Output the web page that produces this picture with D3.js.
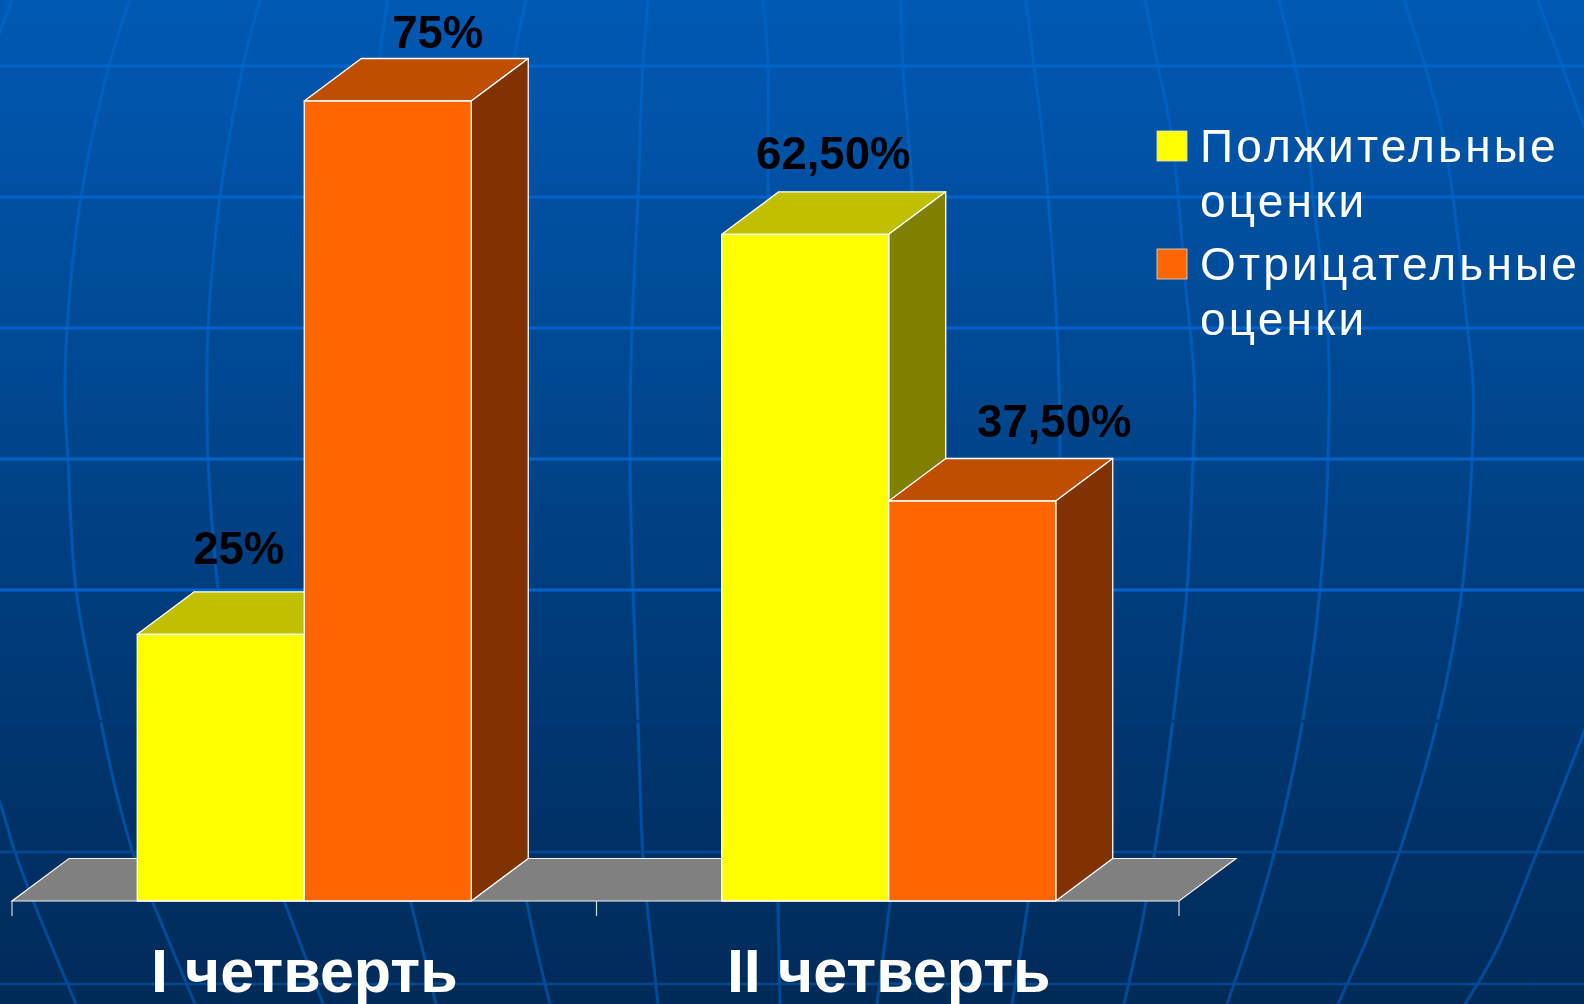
<!DOCTYPE html>
<html>
<head>
<meta charset="utf-8">
<script src="https://d3js.org/d3.v7.min.js"></script>
<style>
    html, body { margin: 0; padding: 0; background: #002d5c; overflow: hidden; }
    svg { display: block; }
    text { font-family: "Liberation Sans", Arial, sans-serif; }
</style>
</head>
<body>
<div id="chart"></div>
<script>
// chart values
const categories = ['I четверть', 'II четверть'];
const seriesNames = ['Полжительные оценки', 'Отрицательные оценки'];
const positiveValues = [25, 62.5];
const negativeValues = [75, 37.5];
const valueLabels = [['25%', '62,50%'], ['75%', '37,50%']];

// background globe, traced by hand
const latitudes = [66, 197, 328, 459, 590, 721, 852, 984];
const meridians = [
    [[12, 0], [-3, 40]],
    [[-30, 720], [0, 803], [15, 852], [34, 903], [76, 1004]],
    [[130, 0], [109, 66], [81, 197], [67, 328], [65, 400], [68, 459], [76, 590], [100, 717], [115, 787], [135, 859], [153, 903], [195, 1004]],
    [[260, 0], [243, 66], [220, 197], [208, 328], [207, 400], [208, 459], [218, 590], [245, 800], [285, 903], [323, 1004]],
    [[388, 0], [379, 57], [350, 300], [345, 460], [360, 700], [411, 903], [436, 1004]],
    [[526, 0], [513, 66], [490, 300], [485, 460], [495, 700], [527, 903], [550, 1004]],
    [[648, 0], [643, 64], [638, 198], [632, 326], [630, 458], [633, 589], [638, 723], [643, 858], [647, 903], [658, 1004]],
    [[763, 0], [768, 64], [768, 192], [772, 460], [776, 700], [778, 903], [780, 1004]],
    [[901, 0], [903, 66], [908, 130], [912, 190], [915, 400], [912, 600], [902, 800], [890, 903], [877, 1004]],
    [[1026, 0], [1034, 66], [1042, 130], [1048, 197], [1057, 328], [1060, 458], [1056, 600], [1044, 780], [1028, 903], [1012, 1004]],
    [[1145, 0], [1158, 66], [1171, 130], [1187, 300], [1193, 360], [1195, 403], [1193, 459], [1187, 590], [1173, 719], [1155, 850], [1142, 923], [1124, 1004]],
    [[1279, 0], [1295, 66], [1307, 130], [1313, 197], [1328, 333], [1328, 459], [1320, 590], [1303, 719], [1275, 850], [1250, 936], [1227, 1004]],
    [[1404, 0], [1425, 66], [1442, 130], [1453, 197], [1468, 333], [1473, 382], [1472, 459], [1462, 590], [1438, 719], [1400, 850], [1370, 932], [1338, 1004]],
    [[1538, 0], [1562, 66], [1600, 170]],
    [[1600, 690], [1565, 781], [1537, 852], [1497, 949], [1465, 1004]]
];

const width = 1584, height = 1004;
const baseY = 901, topY = 101;
const depthX = 57, depthY = 42.5;

const svg = d3.select('#chart').append('svg')
    .attr('width', width)
    .attr('height', height);

const defs = svg.append('defs');

function addGradient(id, stops, units) {
    const g = defs.append('linearGradient').attr('id', id)
        .attr('x1', 0).attr('x2', 0);
    if (units) {
        g.attr('gradientUnits', 'userSpaceOnUse').attr('y1', 0).attr('y2', height);
    } else {
        g.attr('y1', 0).attr('y2', 1);
    }
    stops.forEach(s => g.append('stop').attr('offset', s[0]).attr('stop-color', s[1]));
}

addGradient('bg', [[0, '#0059b3'], [0.4, '#00478f'], [0.8, '#003369'], [1, '#002b59']]);
addGradient('meridian', [[0, '#0062c2'], [0.5, '#0058b4'], [1, '#004a96']], true);

// the reference is a soft, upscaled screenshot
defs.append('filter').attr('id', 'soft')
    .append('feGaussianBlur').attr('stdDeviation', 0.6);

svg.append('rect').attr('width', width).attr('height', height).attr('fill', 'url(#bg)');

// globe behind the chart
const line = d3.line().curve(d3.curveCatmullRom.alpha(0.5));
svg.append('g').selectAll('path')
    .data(meridians)
    .enter().append('path')
    .attr('d', d => line(d))
    .attr('fill', 'none')
    .attr('stroke', 'url(#meridian)')
    .attr('stroke-width', 3);

svg.append('g').selectAll('line')
    .data(latitudes)
    .enter().append('line')
    .attr('x1', 0).attr('x2', width)
    .attr('y1', d => d).attr('y2', d => d)
    .attr('stroke', d => d < 600 ? '#0064cc' : (d < 800 ? '#00397a' : '#004a94'))
    .attr('stroke-width', d => d < 600 ? 3 : 2.5);

// scales
const x0 = d3.scaleBand().domain(categories).range([12, 1181]);
const x1 = d3.scaleBand().domain(seriesNames).range([0, x0.bandwidth()]).paddingInner(0).paddingOuter(0.75);
const y = d3.scaleLinear().domain([0, 75]).range([baseY, topY]);

const colors = d3.scaleOrdinal().domain(seriesNames).range(['#ffff00', '#ff6600']);
const topColors = d3.scaleOrdinal().domain(seriesNames).range(['#c0c000', '#bf4e00']);
const sideColors = d3.scaleOrdinal().domain(seriesNames).range(['#808000', '#803300']);

// floor
const floorLeft = 12, floorRight = 1179;
svg.append('path')
    .attr('d', d3.line()([[floorLeft, baseY], [floorRight, baseY], [floorRight + depthX, baseY - depthY], [floorLeft + depthX, baseY - depthY]]) + 'Z')
    .attr('fill', '#808080')
    .attr('stroke', '#f4f4f4')
    .attr('stroke-width', 1.2);

// tick marks sit on the band edges
svg.append('g').selectAll('line')
    .data([floorLeft, x0(categories[1]), floorRight])
    .enter().append('line')
    .attr('x1', d => d).attr('x2', d => d)
    .attr('y1', baseY).attr('y2', baseY + 15)
    .attr('stroke', '#d8d8d8')
    .attr('stroke-width', 1.2);

const bars = [];
seriesNames.forEach((name, s) => {
    const values = s === 0 ? positiveValues : negativeValues;
    categories.forEach((cat, c) => {
        bars.push({ name: name, cat: cat, value: values[c], label: valueLabels[s][c] });
    });
});

const node = svg.append('g').selectAll('g')
    .data(bars)
    .enter().append('g')
    .attr('stroke', '#fff')
    .attr('stroke-width', 1.3)
    .attr('stroke-linejoin', 'round');

function barLeft(d) { return x0(d.cat) + x1(d.name); }
function barRight(d) { return barLeft(d) + x1.bandwidth(); }

// top face
node.append('path')
    .attr('fill', d => topColors(d.name))
    .attr('d', d => d3.line()([
        [barLeft(d), y(d.value)], [barRight(d), y(d.value)],
        [barRight(d) + depthX, y(d.value) - depthY], [barLeft(d) + depthX, y(d.value) - depthY]
    ]) + 'Z');

// side face
node.append('path')
    .attr('fill', d => sideColors(d.name))
    .attr('d', d => d3.line()([
        [barRight(d), y(d.value)], [barRight(d) + depthX, y(d.value) - depthY],
        [barRight(d) + depthX, baseY - depthY], [barRight(d), baseY]
    ]) + 'Z');

// front face
node.append('rect')
    .attr('fill', d => colors(d.name))
    .attr('x', d => barLeft(d))
    .attr('y', d => y(d.value))
    .attr('width', x1.bandwidth())
    .attr('height', d => baseY - y(d.value));

// value labels, each one was placed by hand in the original
const labelNudge = { '25%': [18, -70], '75%': [50, -53], '62,50%': [28, -65], '37,50%': [82, -64] };
svg.append('g').attr('filter', 'url(#soft)').selectAll('text')
    .data(bars)
    .enter().append('text')
    .attr('x', d => barLeft(d) + x1.bandwidth() / 2 + labelNudge[d.label][0])
    .attr('y', d => y(d.value) + labelNudge[d.label][1])
    .attr('text-anchor', 'middle')
    .attr('font-size', 45.5)
    .attr('font-weight', 'bold')
    .attr('fill', '#000')
    .text(d => d.label);

// category labels
const xAxis = svg.append('g')
    .attr('transform', `translate(0,${baseY})`)
    .attr('filter', 'url(#soft)')
    .call(d3.axisBottom(x0).tickSize(0));
xAxis.select('.domain').remove();
xAxis.selectAll('text')
    .attr('y', 91)
    .attr('dy', 0)
    .attr('font-size', 61)
    .attr('font-weight', 'bold')
    .attr('font-family', '"Liberation Sans", Arial, sans-serif')
    .attr('fill', '#fff');

// legend
const legend = svg.append('g').selectAll('g')
    .data(seriesNames)
    .enter().append('g')
    .attr('transform', (d, i) => `translate(1157,${i === 0 ? 131 : 249})`);

legend.append('rect')
    .attr('width', 30)
    .attr('height', 30)
    .attr('fill', d => colors(d))
    .attr('stroke', '#e8e0c0')
    .attr('stroke-width', 0.8);

legend.selectAll('text')
    .data(d => d.split(' '))
    .enter().append('text')
    .attr('x', 43)
    .attr('y', (d, i) => 31 + i * 55)
    .attr('font-size', 46)
    .attr('letter-spacing', 3.2)
    .attr('fill', '#fff')
    .attr('filter', 'url(#soft)')
    .text(d => d);
</script>
</body>
</html>
